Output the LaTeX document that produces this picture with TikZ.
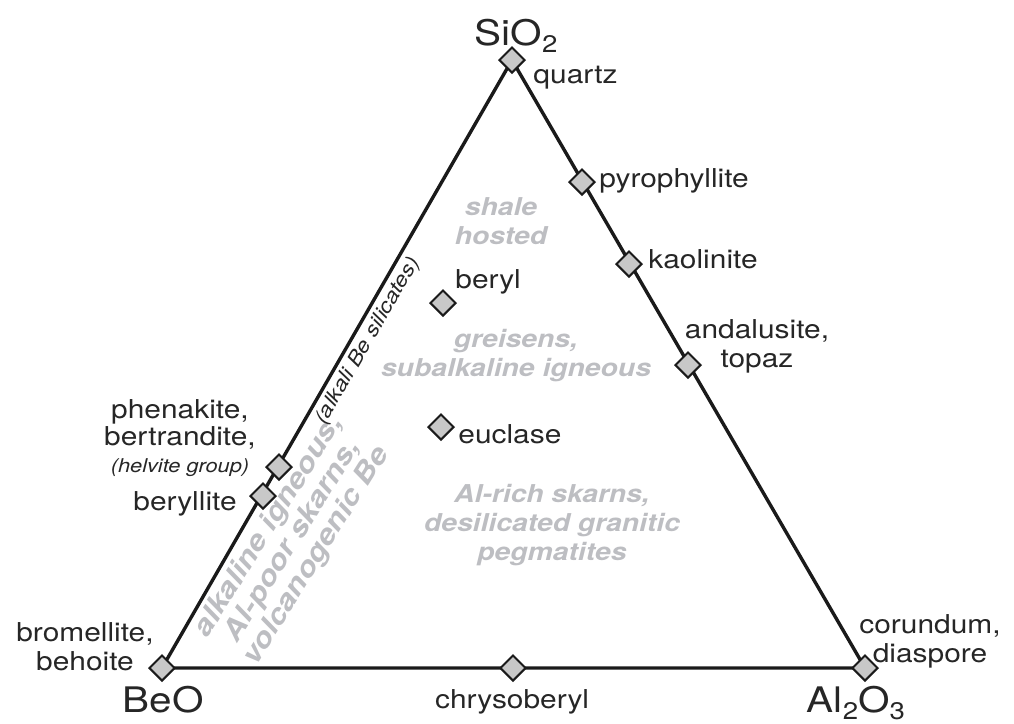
\documentclass[tikz,border=0pt]{standalone}
\usepackage{fontspec}
\setmainfont{TeX Gyre Heros}[FakeStretch=1.15]
\usetikzlibrary{shapes.geometric,positioning}
\definecolor{tdline}{HTML}{1A1A1A}
\definecolor{tdfill}{HTML}{C8C8C8}
\definecolor{tdtext}{HTML}{262626}
\definecolor{tdgrey}{HTML}{BDBEC2}
\newcommand{\tdsub}[1]{\raisebox{-3.5pt}{\fontsize{12}{12}\selectfont #1}}
\tikzstyle{tdedge}=[draw=tdline,line width=1.7pt]
\tikzstyle{tdmin}=[diamond,draw=tdline,fill=tdfill,line width=1pt,
  minimum width=13pt,minimum height=13pt,inner sep=0pt]
\tikzstyle{tdlabel}=[text=tdtext,font=\fontsize{13}{14.5}\selectfont,inner sep=0pt,align=center]
\tikzstyle{tdcorner}=[text=tdtext,font=\fontsize{17.6}{20}\selectfont,inner sep=0pt]
\tikzstyle{tdfield}=[text=tdgrey,font=\fontsize{12.3}{14.5}\selectfont\bfseries\itshape,
  inner sep=0pt,align=center]

\begin{document}
\begin{tikzpicture}[x=0.5pt,y=-0.5pt]
    \useasboundingbox (0,0) rectangle (1014,724);
    % ---- triangle ----
    \coordinate (beo) at (162,668);
    \coordinate (sio) at (512,60);
    \coordinate (alo) at (865,668);
    \draw[tdedge] (beo) -- (sio) -- (alo) -- cycle;

    % ---- fields (grey) ----
    \node[tdfield] (shale) at (501,221) {shale\\hosted};
    \node[tdfield] (greis) at (516,356) {greisens,\\subalkaline igneous};
    \node[tdfield] (skarn) at (552,525) {Al-rich skarns,\\desilicated granitic\\pegmatites};
    \node[tdfield,rotate=58,font=\fontsize{13.8}{14}\selectfont\bfseries\itshape] (alkig) at (293,541)
      {alkaline igneous,\\Al-poor skarns,\\volcanogenic Be};
    \node[text=tdtext,inner sep=0pt,rotate=60,font=\fontsize{10}{12}\selectfont\itshape] (alksil) at (368,341)
      {(alkali Be silicates)};

    % ---- mineral points ----
    \foreach \n/\x/\y in {mbeo/162/668,msio/512/60,malo/865/668,mchry/513/668,
        mpyro/582/182,mkaol/629/264,manda/688/365,
        mphen/279/467,mbrll/263/496,mberyl/443/303,meucl/441/427}
      {\node[tdmin] (\n) at (\x,\y) {};}

    % ---- corner labels ----
    \node[tdcorner,anchor=base] (lsio) at (516,45) {SiO\tdsub{2}};
    \node[tdcorner,anchor=base] (lbeo) at (163,712) {BeO};
    \node[tdcorner,anchor=base] (lalo) at (856,712) {Al\tdsub{2}O\tdsub{3}};

    % ---- mineral labels ----
    \node[tdlabel,anchor=base west] (lqtz)  at (533,83)  {quartz};
    \node[tdlabel,anchor=base west] (lpyro) at (599,187) {pyrophyllite};
    \node[tdlabel,anchor=base west] (lkaol) at (648,268) {kaolinite};
    \node[tdlabel] (landa) at (757,346) {andalusite,\\topaz};
    \node[tdlabel] (lcor)  at (930,641) {corundum,\\diaspore};
    \node[tdlabel,anchor=base] (lchry) at (512,708) {chrysoberyl};
    \node[tdlabel] (lbrom) at (85,647) {bromellite,\\behoite};
    \node[tdlabel,font=\fontsize{13}{13.5}\selectfont] (lphen) at (180,438)
      {phenakite,\\bertrandite,\\{\fontsize{9.5}{11}\selectfont\itshape (helvite group)}};
    \node[tdlabel,anchor=base east] (lbrll) at (237,510) {beryllite};
    \node[tdlabel,anchor=base west] (lberyl) at (455,288) {beryl};
    \node[tdlabel,anchor=base west] (leucl) at (458,443) {euclase};
  \end{tikzpicture}
\end{document}
